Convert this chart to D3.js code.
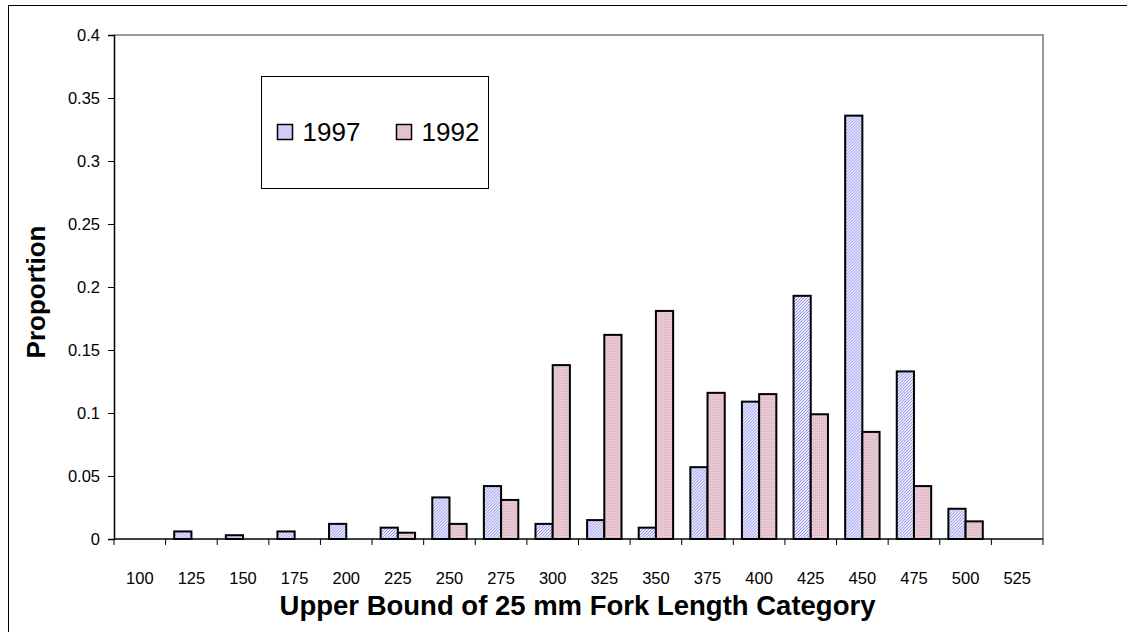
<!DOCTYPE html>
<html>
<head>
<meta charset="utf-8">
<script src="https://d3js.org/d3.v7.min.js"></script>
<style>
body{margin:0;background:#fff;}
svg text{font-family:Arial,"Liberation Sans",sans-serif;}
</style>
</head>
<body>
<div class="canvas"></div>
<script>
// fork length categories + proportions
var categories = ['100','125','150','175','200','225','250','275','300','325','350','375','400','425','450','475','500','525'];
var series = ['1997','1992'];
var values1997 = [0,0.006,0.003,0.006,0.012,0.009,0.033,0.042,0.012,0.015,0.009,0.057,0.109,0.193,0.336,0.133,0.024,0];
var values1992 = [0,0,0,0,0,0.005,0.012,0.031,0.138,0.162,0.181,0.116,0.115,0.099,0.085,0.042,0.014,0];
var yTicks = [0,0.05,0.1,0.15,0.2,0.25,0.3,0.35,0.4];

var W = 1127, H = 632;
var margin = {t:35,r:84,b:93,l:114};
var width = W-margin.l-margin.r,
	height = H-margin.t-margin.b;

var svg = d3.select('.canvas')
	.append('svg')
	.attr('width',W)
	.attr('height',H);

// fill patterns for the two years
var defs = svg.append('defs');
var p1 = defs.append('pattern').attr('id','pat1997')
	.attr('patternUnits','userSpaceOnUse').attr('width',3).attr('height',3);
p1.append('rect').attr('width',3).attr('height',3).attr('fill','#ececff');
p1.append('path').attr('d','M0,3L3,0').attr('stroke','#8f8fe8').attr('stroke-width',1);

var p2 = defs.append('pattern').attr('id','pat1992')
	.attr('patternUnits','userSpaceOnUse').attr('width',2).attr('height',2);
p2.append('rect').attr('width',2).attr('height',2).attr('fill','#e9cbd6');
p2.append('rect').attr('width',1).attr('height',1).attr('fill','#d9aebe');

var fills = {'1997':'url(#pat1997)','1992':'url(#pat1992)'};

// chart area border
svg.append('rect')
	.attr('x',8.5).attr('y',5.5)
	.attr('width',W+20).attr('height',H+20)
	.attr('fill','none')
	.attr('stroke','#000')
	.attr('stroke-width',1);

var plot = svg.append('g')
	.attr('class','plot')
	.attr('transform','translate('+margin.l+','+margin.t+')');

var scaleX = d3.scaleBand().domain(categories).range([0,width]).padding(0);
var scaleSub = d3.scaleBand().domain(series).range([scaleX.bandwidth()/6,scaleX.bandwidth()*5/6]);
var scaleY = d3.scaleLinear().domain([0,0.4]).range([height,0]);

// plot area border (grey top/right)
plot.append('path')
	.attr('d','M0,0H'+width+'V'+height)
	.attr('fill','none')
	.attr('stroke','#999')
	.attr('stroke-width',2);

var data = categories.map(function(c,i){
	return {cat:c, vals:[{s:'1997',v:values1997[i]},{s:'1992',v:values1992[i]}]};
});

var groups = plot.selectAll('.grp')
	.data(data)
	.enter()
	.append('g')
	.attr('class','grp')
	.attr('transform',function(d){ return 'translate('+scaleX(d.cat)+',0)'});

groups.selectAll('rect')
	.data(function(d){ return d.vals.filter(function(e){ return e.v>0 }) })
	.enter()
	.append('rect')
	.attr('x',function(d){ return scaleSub(d.s)})
	.attr('y',function(d){ return scaleY(d.v)})
	.attr('width',scaleSub.bandwidth())
	.attr('height',function(d){ return height-scaleY(d.v)})
	.attr('fill',function(d){ return fills[d.s]})
	.attr('stroke','#000')
	.attr('stroke-width',2);

// y axis
var yAxis = plot.append('g')
	.call(d3.axisLeft(scaleY).tickValues(yTicks).tickSize(6).tickPadding(8)
		.tickFormat(function(d){ return d3.format('')(+d.toFixed(2)) }));
yAxis.select('.domain').attr('stroke','#000').attr('stroke-width',1.5);
yAxis.selectAll('text').attr('font-size',16.5).attr('fill','#000');

// x axis: ticks on category boundaries, labels centred
var xAxis = plot.append('g')
	.attr('transform','translate(0,'+height+')');
xAxis.append('line')
	.attr('x1',0).attr('x2',width)
	.attr('stroke','#000').attr('stroke-width',1.5);
var bounds = categories.map(function(c){ return scaleX(c) }).concat([width]);
xAxis.selectAll('.xt')
	.data(bounds)
	.enter()
	.append('line')
	.attr('class','xt')
	.attr('x1',function(d){ return d}).attr('x2',function(d){ return d})
	.attr('y1',0).attr('y2',6)
	.attr('stroke','#000').attr('stroke-width',1);
xAxis.selectAll('.xl')
	.data(categories)
	.enter()
	.append('text')
	.attr('class','xl')
	.attr('x',function(d){ return scaleX(d)+scaleX.bandwidth()/2})
	.attr('y',45)
	.attr('text-anchor','middle')
	.attr('font-size',16.5)
	.text(function(d){ return d});

// axis titles
svg.append('text')
	.attr('x',margin.l+width/2-1)
	.attr('y',615)
	.attr('text-anchor','middle')
	.attr('font-size',27.5)
	.attr('font-weight','bold')
	.text('Upper Bound of 25 mm Fork Length Category');

svg.append('text')
	.attr('transform','translate(45,'+(margin.t+height/2+5)+') rotate(-90)')
	.attr('text-anchor','middle')
	.attr('font-size',26)
	.attr('font-weight','bold')
	.text('Proportion');

// legend
var legend = svg.append('g').attr('transform','translate(261.5,76.5)');
legend.append('rect')
	.attr('width',227).attr('height',112)
	.attr('fill','#fff').attr('stroke','#000').attr('stroke-width',1);
var items = legend.selectAll('.li')
	.data(series)
	.enter()
	.append('g')
	.attr('class','li')
	.attr('transform',function(d,i){ return 'translate('+(16+i*119)+',48)'});
items.append('rect')
	.attr('width',15).attr('height',15)
	.attr('fill',function(d){ return fills[d]})
	.attr('stroke','#000').attr('stroke-width',1.5);
items.append('text')
	.attr('x',25).attr('y',16)
	.attr('font-size',26)
	.text(function(d){ return d});
</script>
</body>
</html>
